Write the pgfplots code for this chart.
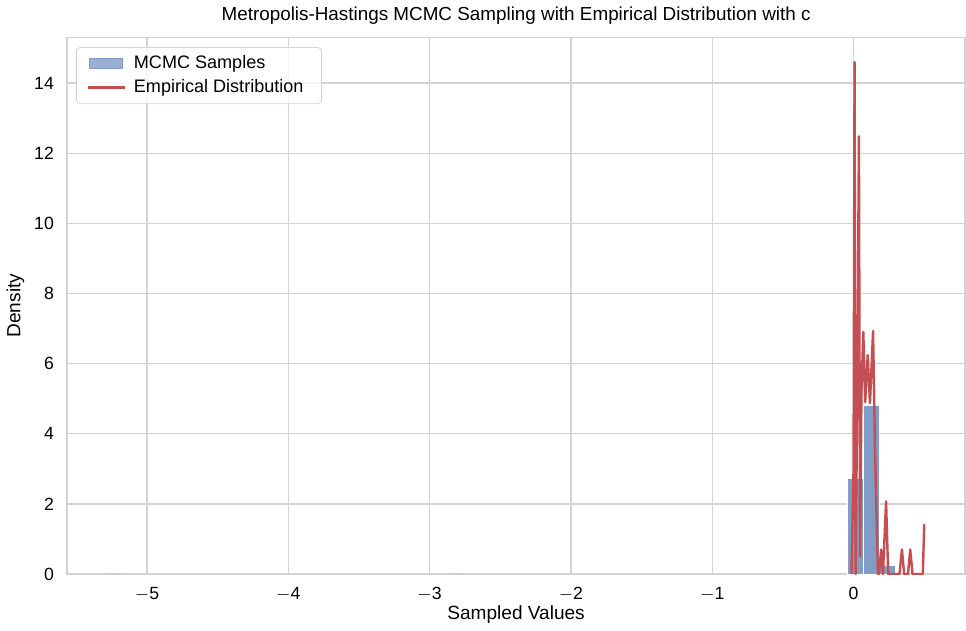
\documentclass[border=0pt]{standalone}
\usepackage{fontspec}
\setmainfont{Liberation Sans}
\usepackage{pgfplots}
\pgfplotsset{compat=1.18}

\definecolor{sblue}{HTML}{829CC8}
\definecolor{sred}{HTML}{C44E52}
\definecolor{gridc}{HTML}{D3D3D3}

\begin{document}
\begin{tikzpicture}
\begin{axis}[
    scale only axis,
    width=446bp, height=266.5bp,
    xmin=-5.566, xmax=0.79,
    ymin=0, ymax=15.3,
    xtick={-5,-4,-3,-2,-1,0},
    ytick={0,2,4,6,8,10,12,14},
    major tick length=0pt,
    grid=major,
    grid style={gridc, line width=0.6pt},
    axis line style={gridc, line width=0.8pt},
    tick label style={font=\fontsize{8.8}{10}\selectfont},
    /pgf/number format/assume math mode=true,
    xticklabel={$\mathrm{\pgfmathprintnumber{\tick}}$},
    xticklabel style={yshift=-3bp},
    yticklabel style={xshift=-3bp},
    xlabel={Sampled Values},
    ylabel={Density},
    label style={font=\fontsize{9.5}{11}\selectfont},
    xlabel style={yshift=4.5bp},
    ylabel style={yshift=-2bp},
    title={Metropolis-Hastings MCMC Sampling with Empirical Distribution with c},
    title style={font=\fontsize{9.4}{11}\selectfont, yshift=-3bp},
    legend style={at={(0.01,0.982)}, anchor=north west,
      font=\fontsize{9}{11}\selectfont, draw=gridc, rounded corners=2pt,
      fill=white, fill opacity=0.8, text opacity=1,
      row sep=0pt, inner xsep=5pt, inner ysep=2pt,
      nodes={inner xsep=4pt}},
    legend cell align=left,
    legend image code/.code={\draw[#1, sharp corners] (0cm,0cm) -- (0.65cm,0cm);},
]
% histogram (density)
\addplot[ybar, bar width=0.114, fill=sblue, draw=white, line width=0.5pt,
    area legend,
    legend image code/.code={\fill[sblue, sharp corners] (0.03cm,-0.09cm) rectangle (0.62cm,0.09cm);}]
  coordinates {
    (0.015, 2.73) (0.129, 4.80) (0.243, 0.25)
  };
\addlegendentry{MCMC Samples}
% empirical distribution
\addplot[sred, line width=1.2pt, line join=round]
  coordinates {
    (-0.015, 0) (0.000, 3.0) (0.007, 14.59) (0.014, 0.0)
    (0.026, 5.0) (0.038, 12.48) (0.046, 0.5) (0.056, 5.2)
    (0.069, 6.90) (0.082, 4.9) (0.100, 6.24) (0.116, 4.87)
    (0.138, 6.93) (0.152, 3.5) (0.172, 0) (0.180, 0)
    (0.195, 0.70) (0.208, 0) (0.230, 2.07) (0.245, 0)
    (0.325, 0) (0.342, 0.70) (0.358, 0) (0.385, 0)
    (0.401, 0.70) (0.417, 0) (0.490, 0) (0.500, 1.42)
  };
\addlegendentry{Empirical Distribution}
% isolated outlying samples: bars of negligible height
\addplot[ybar, bar width=0.114, fill=sblue!60, draw=none, forget plot]
  coordinates {(-5.23, 0.02) (-2.80, 0.02)};
\end{axis}
\end{tikzpicture}
\end{document}
